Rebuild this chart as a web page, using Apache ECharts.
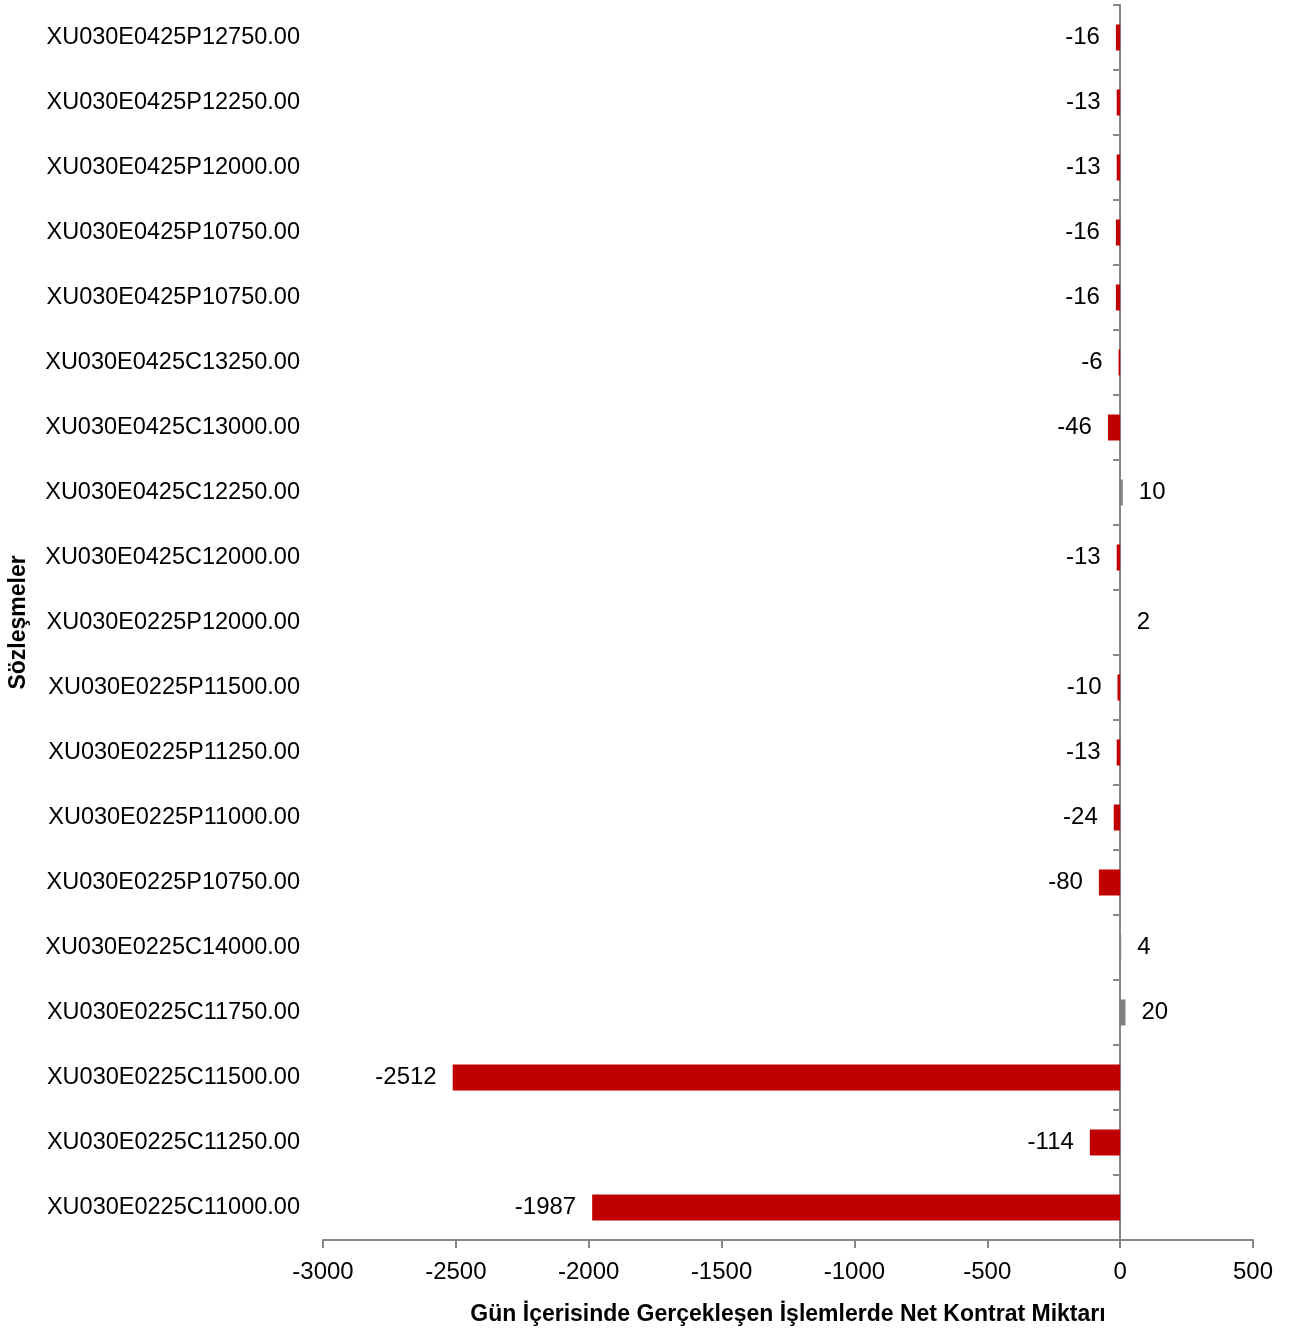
<!DOCTYPE html>
<html>
<head>
<meta charset="utf-8">
<script src="https://cdn.jsdelivr.net/npm/echarts@6/dist/echarts.min.js"></script>
<style>
html,body{margin:0;padding:0;background:#fff;}
#chart{width:1292px;height:1334px;}
</style>
</head>
<body>
<div id="chart"></div>
<script>
const categories = [
  "XU030E0425P12750.00","XU030E0425P12250.00","XU030E0425P12000.00","XU030E0425P10750.00",
  "XU030E0425P10750.00","XU030E0425C13250.00","XU030E0425C13000.00","XU030E0425C12250.00",
  "XU030E0425C12000.00","XU030E0225P12000.00","XU030E0225P11500.00","XU030E0225P11250.00",
  "XU030E0225P11000.00","XU030E0225P10750.00","XU030E0225C14000.00","XU030E0225C11750.00",
  "XU030E0225C11500.00","XU030E0225C11250.00","XU030E0225C11000.00"
];
const values = [-16,-13,-13,-16,-16,-6,-46,10,-13,2,-10,-13,-24,-80,4,20,-2512,-114,-1987];
const xTicks = { min: -3000, max: 500, interval: 500 };
const xAxisTitle = "Gün İçerisinde Gerçekleşen İşlemlerde Net Kontrat Miktarı";
const yAxisTitle = "Sözleşmeler";

const NEG = '#C00000', POS = '#808080', AX = '#868686';
const FONT = 'Liberation Sans, Arial, sans-serif';
const chart = echarts.init(document.getElementById('chart'), null, {renderer:'canvas'});
const seriesData = values.map(v => ({
  value: v,
  itemStyle: { color: v < 0 ? NEG : POS },
  label: { position: v < 0 ? 'left' : 'right' }
}));
chart.setOption({
  animation: false,
  backgroundColor: '#fff',
  grid: { left: 323, right: 39, top: 5, bottom: 94, containLabel: false, outerBoundsMode: 'none' },
  xAxis: {
    type: 'value', min: xTicks.min, max: xTicks.max, interval: xTicks.interval,
    name: xAxisTitle, nameLocation: 'middle', nameGap: 63,
    nameTextStyle: { fontFamily: FONT, fontWeight: 'bold', fontSize: 23, color: '#000' },
    axisLine: { show: true, onZero: false, lineStyle: { color: AX, width: 2 } },
    axisTick: { show: true, length: 8, lineStyle: { color: AX, width: 2 } },
    axisLabel: { margin: 20, fontFamily: FONT, fontSize: 24, color: '#000', formatter: v => String(v) },
    splitLine: { show: false }
  },
  yAxis: [{
    type: 'category', data: categories, inverse: true, position: 'left',
    name: yAxisTitle, nameLocation: 'middle', nameGap: 293, nameRotate: 90,
    nameTextStyle: { fontFamily: FONT, fontWeight: 'bold', fontSize: 23, color: '#000' },
    axisLine: { show: false, onZero: false },
    axisTick: { show: false },
    axisLabel: { margin: 23, fontFamily: FONT, fontSize: 23.5, color: '#000' },
    splitLine: { show: false }
  }, {
    type: 'category', data: categories, inverse: true, position: 'left',
    axisLine: { show: true, onZero: true, lineStyle: { color: AX, width: 2 } },
    axisTick: { show: true, length: 7, lineStyle: { color: AX, width: 2 } },
    axisLabel: { show: false },
    splitLine: { show: false }
  }],
  series: [{
    type: 'bar', yAxisIndex: 0, data: seriesData, barWidth: 26,
    label: { show: true, distance: 16, fontFamily: FONT, fontSize: 24, color: '#000' }
  }]
});
</script>
</body>
</html>
